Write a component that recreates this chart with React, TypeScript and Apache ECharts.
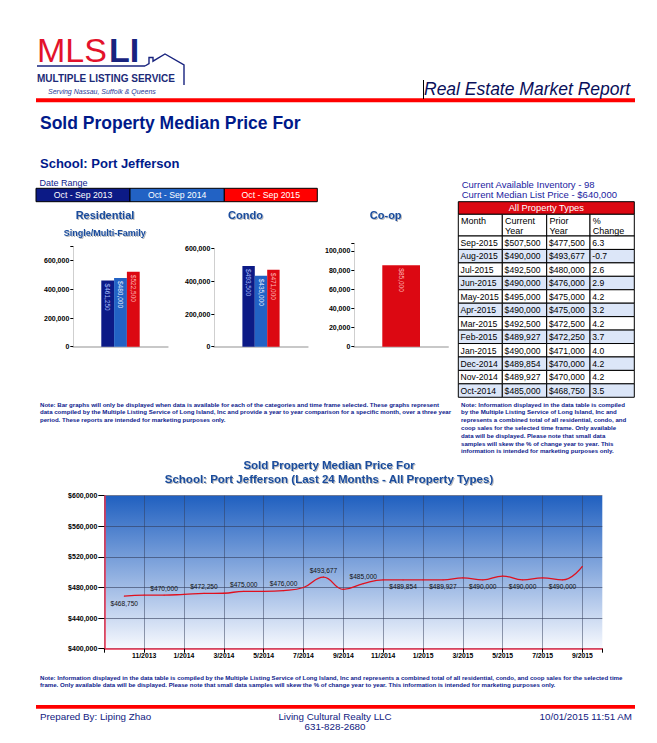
import React, { useEffect, useRef } from 'react';
import * as echarts from 'echarts';

const FONT = "'Liberation Sans', Arial, sans-serif";
const NAVY = '#0d1a8c';
const TITLE_BLUE = '#1a4c9c';

// ---------- data ----------
const dateRanges = ['Oct - Sep 2013', 'Oct - Sep 2014', 'Oct - Sep 2015'];
const propertyTypes = ['Residential', 'Condo', 'Co-op'];
const residentialMedian = [461250, 480000, 522500];
const condoMedian = [493500, 435000, 471000];
const coopMedian = [null, null, 85000];

const months = [
  'Oct-2013', 'Nov-2013', 'Dec-2013', 'Jan-2014', 'Feb-2014', 'Mar-2014',
  'Apr-2014', 'May-2014', 'Jun-2014', 'Jul-2014', 'Aug-2014', 'Sep-2014',
  'Oct-2014', 'Nov-2014', 'Dec-2014', 'Jan-2015', 'Feb-2015', 'Mar-2015',
  'Apr-2015', 'May-2015', 'Jun-2015', 'Jul-2015', 'Aug-2015', 'Sep-2015',
];
const medianPrice = [
  468750, 470000, 470000, 471000, 472250, 472500,
  475000, 475000, 476000, 480000, 493677, 477500,
  485000, 489927, 489854, 490000, 489927, 492500,
  490000, 495000, 490000, 492500, 490000, 507500,
];
// % change, Sep-2015 down to Oct-2014
const pctChange = ['6.3', '-0.7', '2.6', '2.9', '4.2', '3.2', '4.2', '3.7', '4.0', '4.2', '4.2', '3.5'];
const xTickLabels = ['11/2013', '1/2014', '3/2014', '5/2014', '7/2014', '9/2014', '11/2014', '1/2015', '3/2015', '5/2015', '7/2015', '9/2015'];
const availableInventory = 98;
const medianListPrice = 640000;

const leftNote = [
  'Note: Bar graphs will only be displayed when data is available for each of the categories and time frame selected. These graphs represent',
  'data compiled by the Multiple Listing Service of Long Island, Inc and provide a year to year comparison for a specific month, over a three year',
  'period. These reports are intended for marketing purposes only.',
];
const rightNote = [
  'Note: Information displayed in the data table is compiled',
  'by the Multiple Listing Service of Long Island, Inc and',
  'represents a combined total of all residential, condo, and',
  'coop sales for the selected time frame. Only available',
  'data will be displayed. Please note that small data',
  'samples will skew the % of change year to year. This',
  'information is intended for marketing purposes only.',
];
const bottomNote = [
  'Note: Information displayed in the data table is compiled by the Multiple Listing Service of Long Island, Inc and represents a combined total of all residential, condo, and coop sales for the selected time',
  'frame. Only available data will be displayed. Please note that small data samples will skew the % of change year to year. This information is intended for marketing purposes only.',
];

// ---------- styles ----------
const rangeColors = ['#0c1a86', '#2262c4', '#dc0812'];
const boxColors = ['#0c1a86', '#2262c4', '#ff0000'];
const barLabelColors = ['#aabfff', '#e6eeff', '#ffb8b8'];

const money = (v: number) => '$' + v.toLocaleString('en-US');

function txt(x: number, y: number, text: string, o: any = {}) {
  return {
    type: 'text',
    x,
    y,
    silent: true,
    z: 100,
    scaleX: o.scaleX ?? 1,
    style: {
      text,
      fill: o.fill ?? NAVY,
      fontSize: o.size ?? 9,
      fontFamily: o.family ?? FONT,
      fontWeight: o.weight ?? 'normal',
      fontStyle: o.style ?? 'normal',
      align: o.align ?? 'left',
      verticalAlign: 'middle',
      textShadowColor: o.shadow ? 'rgba(0,0,0,0.28)' : undefined,
      textShadowOffsetX: o.shadow ? 1 : 0,
      textShadowOffsetY: o.shadow ? 1 : 0,
      textShadowBlur: o.shadow ? 1 : 0,
    },
  };
}
function rect(x: number, y: number, w: number, h: number, fill: string, stroke?: string) {
  return {
    type: 'rect',
    silent: true,
    z: 90,
    shape: { x, y, width: w, height: h },
    style: { fill, stroke: stroke ?? 'none', lineWidth: stroke ? 1 : 0 },
  };
}

function buildGraphics() {
  const g: any[] = [];
  // logo
  g.push(txt(37, 50, 'MLS', { fill: '#e3122c', size: 34 }));
  g.push(txt(109, 50, 'LI', { fill: '#18237e', size: 34, weight: 'bold' }));
  g.push({ type: 'line', silent: true, z: 100, shape: { x1: 37, y1: 66, x2: 145, y2: 66 }, style: { stroke: '#18237e', lineWidth: 1.6 } });
  g.push({
    type: 'polyline', silent: true, z: 100,
    shape: { points: [[145, 66], [149, 63.6], [149, 57.5], [153, 57.5], [153, 61.2], [165, 54], [184, 65], [184, 85]] },
    style: { stroke: '#18237e', lineWidth: 1.4, fill: 'none' },
  });
  g.push(txt(37, 78.3, 'MULTIPLE LISTING SERVICE', { fill: '#1c2a78', size: 10, weight: 'bold' }));
  g.push(txt(48, 91.5, 'Serving Nassau, Suffolk & Queens', { fill: '#2a3a9a', size: 7, style: 'italic' }));
  g.push(txt(424, 88.5, 'Real Estate Market Report', { fill: '#0a0f5a', size: 17.5, style: 'italic' }));
  g.push({ type: 'line', silent: true, z: 100, shape: { x1: 423.5, y1: 80, x2: 423.5, y2: 99 }, style: { stroke: '#000', lineWidth: 1 } });
  g.push(rect(36, 98.3, 599, 4, '#ff0000'));

  g.push(txt(40, 123, 'Sold Property Median Price For', { fill: '#001a8a', size: 17.5, weight: 'bold' }));
  g.push(txt(40, 163.8, 'School: Port Jefferson', { fill: '#001a8a', size: 13, weight: 'bold' }));

  // date range legend
  g.push(txt(39.5, 182.7, 'Date Range', { size: 9 }));
  const bx = [36, 130, 224.3, 317.3];
  dateRanges.forEach((d, i) => {
    g.push(rect(bx[i], 188.3, bx[i + 1] - bx[i], 13.4, boxColors[i], '#000'));
    g.push(txt((bx[i] + bx[i + 1]) / 2, 195.2, d, { fill: '#fff', size: 8.7, align: 'center' }));
  });

  // chart titles
  const cx = [105, 245.5, 385.7];
  propertyTypes.forEach((p, i) => g.push(txt(cx[i], 215, p, { fill: TITLE_BLUE, size: 11, weight: 'bold', align: 'center', shadow: true })));
  g.push(txt(104.7, 233.3, 'Single/Multi-Family', { fill: TITLE_BLUE, size: 9, weight: 'bold', align: 'center', shadow: true }));

  // inventory
  g.push(txt(461.7, 184, 'Current Available Inventory - ' + availableInventory, { fill: '#1a22a0', size: 9.5 }));
  g.push(txt(461.7, 194, 'Current Median List Price - ' + money(medianListPrice), { fill: '#1a22a0', size: 9.5 }));

  // table
  const cols = [458.3, 502.3, 546.7, 590, 634.3];
  const tw = cols[4] - cols[0];
  g.push(rect(cols[0], 201.7, tw, 12.6, '#dc0812', '#000'));
  g.push(txt((cols[0] + cols[4]) / 2, 208.2, 'All Property Types', { fill: '#fff', size: 9.3, align: 'center' }));
  const heads = [['Month'], ['Current', 'Year'], ['Prior', 'Year'], ['%', 'Change']];
  for (let c = 0; c < 4; c++) {
    g.push(rect(cols[c], 214.3, cols[c + 1] - cols[c], 21.7, '#fff', '#000'));
    heads[c].forEach((h, k) => g.push(txt(cols[c] + 2.8, 221.3 + k * 9.4, h, { fill: '#000', size: 9 })));
  }
  const rowTop = 236;
  const rowH = 13.44;
  for (let r = 0; r < 12; r++) {
    const y = rowTop + r * rowH;
    const fill = r % 2 === 1 ? '#dce6f8' : '#ffffff';
    const vals = [months[23 - r], money(medianPrice[23 - r]), money(medianPrice[11 - r]), pctChange[r]];
    for (let c = 0; c < 4; c++) {
      g.push(rect(cols[c], y, cols[c + 1] - cols[c], rowH, fill, '#000'));
      g.push(txt(cols[c] + 2.3, y + rowH / 2 + 0.3, vals[c], { fill: '#000', size: 8.6 }));
    }
  }

  // notes
  leftNote.forEach((l, i) => g.push(txt(40, 404 + i * 7.8, l, { size: 6.1, weight: 'bold' })));
  rightNote.forEach((l, i) => g.push(txt(461, 404 + i * 7.8, l, { size: 6.1, weight: 'bold' })));

  // line chart title
  g.push(txt(329, 464.5, 'Sold Property Median Price For', { fill: TITLE_BLUE, size: 11.5, weight: 'bold', align: 'center', shadow: true }));
  g.push(txt(329, 479, 'School: Port Jefferson (Last 24 Months - All Property Types)', { fill: TITLE_BLUE, size: 11.5, weight: 'bold', align: 'center', shadow: true }));

  bottomNote.forEach((l, i) => g.push(txt(40, 677.3 + i * 6.8, l, { size: 6.1, weight: 'bold' })));

  // footer
  g.push(rect(36, 705, 599, 3.8, '#ff0000'));
  g.push(txt(40, 716.5, 'Prepared By: Liping Zhao', { fill: '#102080', size: 9.8 }));
  g.push(txt(335, 716.5, 'Living Cultural Realty LLC', { fill: '#102080', size: 9.8, align: 'center' }));
  g.push(txt(335, 726.5, '631-828-2680', { fill: '#102080', size: 9.8, align: 'center' }));
  g.push(txt(632, 716.5, '10/01/2015 11:51 AM', { fill: '#102080', size: 9.8, align: 'right' }));
  return g;
}

function buildOption() {
  const barSets = [residentialMedian, condoMedian, coopMedian];
  const barMax = [700000, 600000, 108000];
  const barInterval = [200000, 200000, 20000];
  const barWidths = [12.8, 12.4, 37.7];

  const grids: any[] = [
    { left: 73.3, top: 246.4, width: 94.4, height: 100.3 },
    { left: 214.3, top: 248.7, width: 93.4, height: 98 },
    { left: 354.3, top: 243.3, width: 93.7, height: 103.4 },
    {
      left: 104.3, top: 495.7, width: 498, height: 153, show: true, borderWidth: 0,
      backgroundColor: {
        type: 'linear', x: 0, y: 0, x2: 0, y2: 1,
        colorStops: [{ offset: 0, color: '#2060c0' }, { offset: 1, color: '#f7f9fe' }],
      },
    },
  ];

  const xAxes: any[] = [0, 1, 2].map((k) => ({
    type: 'category', gridIndex: k, data: [propertyTypes[k]],
    axisLine: { show: true, lineStyle: { color: '#c8c8c8', width: 2 } },
    axisTick: { show: false }, axisLabel: { show: false }, splitLine: { show: false },
  }));
  const yAxes: any[] = [0, 1, 2].map((k) => ({
    type: 'value', gridIndex: k, min: 0, max: barMax[k], interval: barInterval[k],
    axisLine: { show: true, lineStyle: { color: '#cfcfcf', width: 1 } },
    axisTick: { show: true, length: 3, lineStyle: { color: '#000' } },
    splitLine: { show: false },
    axisLabel: {
      fontSize: 7, fontWeight: 'bold', color: '#000', margin: 4, fontFamily: FONT,
      formatter: (v: number) => (v % barInterval[k] === 0 ? v.toLocaleString('en-US') : ''),
    },
  }));

  xAxes.push({
    type: 'value', gridIndex: 3, min: -1, max: 24, interval: 2,
    axisLine: { show: true, onZero: false, lineStyle: { color: '#e8324e', width: 1.5 } },
    axisTick: { show: true, length: 4, lineStyle: { color: '#000' } },
    axisLabel: {
      fontSize: 6.8, fontWeight: 'bold', color: '#000', margin: 3, fontFamily: FONT,
      formatter: (v: number) => {
        const idx = (v - 1) / 2;
        return Number.isInteger(idx) && idx >= 0 && idx < xTickLabels.length ? xTickLabels[idx] : '';
      },
    },
    splitLine: { show: true, showMaxLine: false, lineStyle: { color: 'rgba(50,60,90,0.5)', width: 1 } },
  });
  yAxes.push({
    type: 'value', gridIndex: 3, min: 400000, max: 600000, interval: 40000,
    axisLine: { show: true, onZero: false, lineStyle: { color: '#e8324e', width: 1.5 } },
    axisTick: { show: true, length: 6, lineStyle: { color: '#000' } },
    axisLabel: { fontSize: 7, fontWeight: 'bold', color: '#000', margin: 7, fontFamily: FONT, formatter: (v: number) => money(v) },
    splitLine: { show: true, lineStyle: { color: 'rgba(50,60,90,0.6)', width: 1 } },
  });

  const series: any[] = [];
  barSets.forEach((set, k) => {
    set.forEach((v, j) => {
      if (v == null) return;
      series.push({
        type: 'bar', name: dateRanges[j], xAxisIndex: k, yAxisIndex: k,
        data: [v], barWidth: barWidths[k], barGap: '0%',
        itemStyle: { color: rangeColors[j] },
        label: {
          show: true, position: 'insideTop', rotate: -90, align: 'left', verticalAlign: 'middle',
          distance: 3, fontSize: 6.5, fontFamily: FONT, color: barLabelColors[j],
          formatter: (p: any) => money(p.value),
        },
      });
    });
  });

  series.push({
    type: 'line', xAxisIndex: 3, yAxisIndex: 3, smooth: 0.45,
    symbol: 'circle', symbolSize: 1, showSymbol: true,
    itemStyle: { color: '#e0101e' },
    lineStyle: { color: '#e0101e', width: 1.3 },
    data: medianPrice.map((v, i) => ({
      value: [i, v],
      label: { show: i % 2 === 0, position: i === 0 || i >= 14 ? 'bottom' : 'top' },
    })),
    label: {
      distance: 3, fontSize: 6.6, fontFamily: FONT, color: '#111',
      formatter: (p: any) => money(p.value[1]),
    },
  });

  return {
    animation: false,
    backgroundColor: '#ffffff',
    textStyle: { fontFamily: FONT },
    grid: grids,
    xAxis: xAxes,
    yAxis: yAxes,
    series,
    graphic: { elements: buildGraphics() },
  };
}

export default function App() {
  const ref = useRef<HTMLDivElement>(null);
  useEffect(() => {
    if (!ref.current) return;
    const chart = echarts.init(ref.current, undefined, { renderer: 'svg' });
    chart.setOption(buildOption() as any);
    return () => chart.dispose();
  }, []);
  return (
    <div
      ref={ref}
      style={{ position: 'absolute', left: 0, top: 0, width: 657, height: 743, background: '#fff' }}
    />
  );
}
